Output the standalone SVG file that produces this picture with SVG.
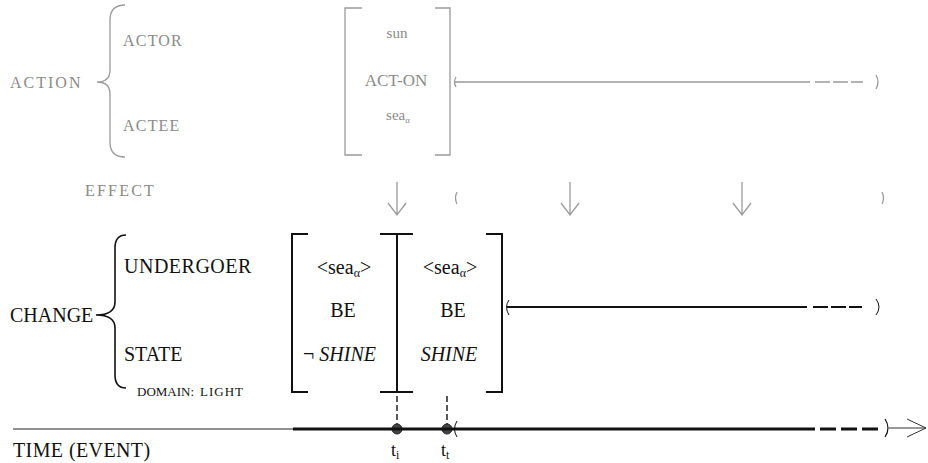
<svg xmlns="http://www.w3.org/2000/svg" width="928" height="463" viewBox="0 0 928 463">
<style>
.g{font-family:"Liberation Serif","DejaVu Serif","Times New Roman",serif;fill:#8a8a8a}
.b{font-family:"Liberation Serif","DejaVu Serif","Times New Roman",serif;fill:#111}
.gl{fill:none;stroke:#9a9a9a;stroke-width:1.3}
.bl{fill:none;stroke:#111;stroke-width:2}
.mid{text-anchor:middle}
</style>
<rect width="928" height="463" fill="#fff"/>
<g id="action">
<text class="g" x="10" y="88" font-size="16" letter-spacing="2">ACTION</text>
<path class="gl" d="M125,5 Q110,5 110,20 L110,70 Q110,82 97,82 Q110,82 110,94 L110,142 Q110,157 125,157"/>
<text class="g" x="123" y="46" font-size="16" letter-spacing="1.2">ACTOR</text>
<text class="g" x="123" y="131" font-size="16" letter-spacing="1.2">ACTEE</text>
</g>
<g id="act-on">
<path class="gl" d="M362,8 H345 V155 H362 M435,8 H450 V155 H435"/>
<text class="g mid" x="397" y="38" font-size="15">sun</text>
<text class="g mid" x="396" y="86" font-size="17">ACT-ON</text>
<text class="g mid" x="398" y="120" font-size="15">sea<tspan font-size="9" dy="3">α</tspan></text>
</g>
<g id="effect">
<text class="g" x="85" y="196" font-size="16" letter-spacing="2.2">EFFECT</text>
</g>
<g id="change">
<text class="b" x="10" y="322" font-size="20">CHANGE</text>
<path fill="none" stroke="#111" stroke-width="1.6" d="M126,235 Q115,235 115,248 L115,302 Q115,315 96,315 Q115,315 115,328 L115,375 Q115,388 126,388"/>
<text class="b" x="124" y="273" font-size="20" letter-spacing="0.5">UNDERGOER</text>
<text class="b" x="124" y="361" font-size="20">STATE</text>
<text class="b" x="137" y="396" font-size="13">DOMAIN:</text>
<text class="b" x="200" y="396" font-size="13" letter-spacing="1">LIGHT</text>
</g>
<g id="state1">
<path class="bl" d="M308,234 H292 V392 H308"/>
<text class="b mid" x="344" y="274" font-size="20">&lt;sea<tspan font-size="12" dy="3">α</tspan><tspan dy="-3">&gt;</tspan></text>
<text class="b mid" x="343" y="317" font-size="20">BE</text>
<text class="b" x="303" y="361" font-size="20">¬ <tspan font-style="italic">SHINE</tspan></text>
</g>
<g id="boundary">
<path class="bl" d="M380,234 H413 M397,234 V392 M380,392 H413"/>
</g>
<g id="state2">
<path class="bl" d="M486,234 H502 V392 H486"/>
<text class="b mid" x="450" y="274" font-size="20">&lt;sea<tspan font-size="12" dy="3">α</tspan><tspan dy="-3">&gt;</tspan></text>
<text class="b mid" x="453" y="317" font-size="20">BE</text>
<text class="b mid" x="449" y="361" font-size="20" font-style="italic">SHINE</text>
</g>
<g id="time">
<text class="b" x="13" y="457" font-size="20" letter-spacing="0.4">TIME (EVENT)</text>
<circle cx="397" cy="429" r="5" fill="#444" stroke="#222" stroke-width="1"/>
<circle cx="447" cy="429" r="5" fill="#444" stroke="#222" stroke-width="1"/>
<text class="b" x="391" y="456" font-size="18">t<tspan font-size="12" dy="3">i</tspan></text>
<text class="b" x="441" y="456" font-size="18">t<tspan font-size="12" dy="3">t</tspan></text>
</g>
<g id="connectors">
<path class="gl" d="M456,77 Q453,82 456,87"/>
<path class="gl" d="M454,82 H810"/>
<path class="gl" d="M815,82 H863" stroke-dasharray="15,3"/>
<path class="gl" d="M876,75 Q880,82 876,89"/>
<path class="gl" d="M397,182 V215 M388,203 L397,215 L406,203"/>
<path class="gl" d="M570,182 V215 M561,203 L570,215 L579,203"/>
<path class="gl" d="M742,182 V215 M733,203 L742,215 L751,203"/>
<path class="gl" d="M457,192 Q454,198 457,204"/>
<path class="gl" d="M882,192 Q885,198 882,204"/>
<path fill="none" stroke="#111" stroke-width="1" d="M509,300 Q504,307 509,315"/>
<path fill="none" stroke="#111" stroke-width="1.8" d="M507,307 H807"/>
<path fill="none" stroke="#111" stroke-width="1.8" d="M813,307 H862" stroke-dasharray="15,3"/>
<path fill="none" stroke="#111" stroke-width="1" d="M876,299 Q882,307 876,315"/>
<path fill="none" stroke="#222" stroke-width="1.5" stroke-dasharray="6,3" d="M397,396 V424 M447,396 V424"/>
<path fill="none" stroke="#222" stroke-width="1" d="M13,429 H293"/>
<path fill="none" stroke="#111" stroke-width="3" d="M293,429 H815"/>
<path fill="none" stroke="#111" stroke-width="3" d="M820,429 H883" stroke-dasharray="16,5"/>
<path fill="none" stroke="#111" stroke-width="1" d="M457,421 Q452,429 457,437"/>
<path fill="none" stroke="#111" stroke-width="1.2" d="M885,419 Q891,428 885,437"/>
<path fill="none" stroke="#333" stroke-width="1" d="M889,428 H926 M907,419 L926,428 L907,437"/>
</g>
</svg>
